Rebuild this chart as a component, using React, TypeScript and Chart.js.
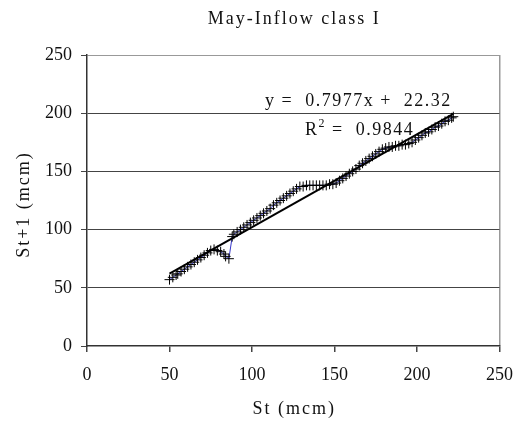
import React, { useEffect, useRef } from "react";
import { Chart, registerables } from "chart.js";

Chart.register(...registerables);

const TITLE = "May-Inflow class I";
const X_LABEL = "St (mcm)";
const Y_LABEL = "St+1 (mcm)";
const X_TICKS = [0, 50, 100, 150, 200, 250];
const Y_TICKS = [0, 50, 100, 150, 200, 250];

const stX = [
  50, 52, 54, 55, 57, 59, 61, 63, 65, 67, 69, 71, 73, 75, 77, 79, 81, 83, 84, 86,
  88, 89, 91, 93, 95, 97, 99, 101, 103, 105, 107, 109, 111, 113, 115, 117, 119, 121, 123, 125, 127, 129,
  131, 133, 135, 137, 139, 141, 143, 145, 147, 149,
  151, 153, 155, 157, 159, 161, 163, 165, 167, 169, 171, 173, 175, 177, 179, 181,
  183, 185, 187, 189, 191, 193, 195, 197,
  199, 201, 203, 205, 207, 209, 211, 213, 215, 217, 219, 221, 222,
];
const stY = [
  57, 59, 61, 62, 64, 66, 68, 70, 72, 74, 76, 78, 80, 82, 83, 82, 81, 79, 77, 75,
  94, 96, 98, 100, 102, 104, 106, 108, 110, 112, 114, 116, 118, 121, 123, 125, 127, 129, 131, 133, 135, 137,
  137, 138, 138, 138, 138, 138, 138, 138, 139, 139,
  140, 142, 144, 146, 148, 150, 152, 155, 157, 159, 161, 163, 165, 167, 169, 170,
  171, 171, 172, 172, 173, 173, 174, 175,
  177, 179, 181, 183, 184, 186, 188, 189, 191, 193, 194, 196, 197,
];

const SLOPE = 0.7977;
const INTERCEPT = 22.32;
const EQ_TEXT = "y =  0.7977x +  22.32";
const R2_TEXT = "0.9844";

const FONT = '"Liberation Serif", "Times New Roman", serif';
const TEXT_COLOR = "#111";

const overlay = {
  id: "overlay",
  afterDraw(chart: any) {
    const ctx = chart.ctx as any;
    const a = chart.chartArea;
    const cx = (a.left + a.right) / 2;
    ctx.save();
    ctx.fillStyle = TEXT_COLOR;
    ctx.font = `18px ${FONT}`;
    ctx.textBaseline = "alphabetic";
    ctx.textAlign = "center";
    ctx.letterSpacing = "2px";
    ctx.fillText(TITLE, cx + 1, 24);
    ctx.fillText(X_LABEL, cx + 1, 414);

    ctx.save();
    ctx.translate(29, (a.top + a.bottom) / 2 + 4);
    ctx.rotate(-Math.PI / 2);
    ctx.fillText(Y_LABEL, 0, 0);
    ctx.restore();

    // trendline equation label
    ctx.textAlign = "left";
    ctx.letterSpacing = "1.5px";
    const ex = a.left + 178;
    ctx.fillText(EQ_TEXT, ex, a.top + 51);
    const rx = a.left + 218;
    const ry = a.top + 80;
    ctx.fillText("R", rx, ry);
    const rw = ctx.measureText("R").width;
    ctx.font = `12px ${FONT}`;
    ctx.fillText("2", rx + rw, ry - 8);
    const sw = ctx.measureText("2").width;
    ctx.font = `18px ${FONT}`;
    ctx.fillText(" =  " + R2_TEXT, rx + rw + sw, ry);
    ctx.restore();
  },
};

export default function App() {
  const ref = useRef<HTMLCanvasElement>(null);

  useEffect(() => {
    document.body.style.margin = "0";
    const canvas = ref.current;
    if (!canvas) return;
    const points = stX.map((x, i) => ({ x, y: stY[i] }));
    const xMin = Math.min(...stX);
    const xMax = Math.max(...stX);
    const trend = [
      { x: xMin, y: SLOPE * xMin + INTERCEPT },
      { x: xMax, y: SLOPE * xMax + INTERCEPT },
    ];

    const chart = new Chart(canvas, {
      type: "scatter",
      data: {
        datasets: [
          {
            label: "Trend",
            data: trend,
            showLine: true,
            borderColor: "#000",
            borderWidth: 2,
            pointRadius: 0,
            order: 0,
          },
          {
            label: "St+1",
            data: points,
            showLine: true,
            borderColor: "#3535c8",
            borderWidth: 1,
            pointStyle: "cross",
            pointRadius: 5,
            pointHoverRadius: 5,
            pointBorderColor: "#000",
            pointBackgroundColor: "#000",
            pointBorderWidth: 1,
            order: 1,
          },
        ],
      },
      options: {
        responsive: false,
        animation: false,
        layout: { padding: { top: 55, right: 16, bottom: 0, left: 0 } },
        plugins: {
          legend: { display: false },
          tooltip: { enabled: false },
          title: { display: false },
        },
        scales: {
          x: {
            type: "linear",
            min: 0,
            max: 250,
            afterBuildTicks: (s: any) => {
              s.ticks = X_TICKS.map((v) => ({ value: v }));
            },
            afterFit: (s: any) => {
              s.height = 81;
            },
            ticks: {
              font: { family: FONT, size: 18 },
              color: TEXT_COLOR,
              padding: 12,
              maxRotation: 0,
            },
            grid: {
              color: (c: any) => (c.tick && c.tick.value === 250 ? "#999" : "rgba(0,0,0,0)"),
              tickColor: "#444",
              tickLength: 6,
              lineWidth: 1.5,
            },
            border: { color: "#333", width: 1.5 },
          },
          y: {
            type: "linear",
            min: 0,
            max: 250,
            afterBuildTicks: (s: any) => {
              s.ticks = Y_TICKS.map((v) => ({ value: v }));
            },
            afterFit: (s: any) => {
              s.width = 87;
            },
            ticks: {
              font: { family: FONT, size: 18 },
              color: TEXT_COLOR,
              padding: 9,
            },
            grid: {
              color: (c: any) => {
                const v = c.tick && c.tick.value;
                if (v === 250) return "#999";
                if (v === 0) return "rgba(0,0,0,0)";
                return "#444";
              },
              tickColor: "#444",
              tickLength: 6,
              lineWidth: 1,
            },
            border: { color: "#333", width: 1.5 },
          },
        },
      },
      plugins: [overlay],
    });
    return () => chart.destroy();
  }, []);

  return <canvas ref={ref} width={525} height={427} style={{ display: "block" }} />;
}
